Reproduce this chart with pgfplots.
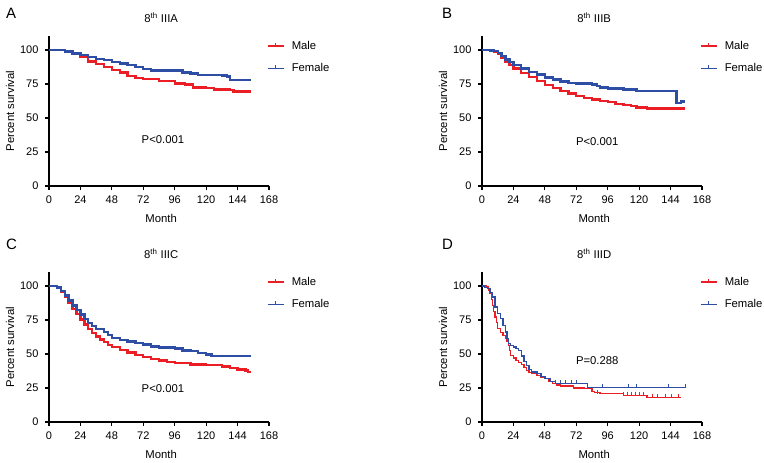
\documentclass[border=0pt]{standalone}
\usepackage{pgfplots}
\pgfplotsset{compat=1.18}
\usepackage{fontspec}
\setmainfont{Liberation Sans}
\definecolor{kmred}{RGB}{235,30,38}
\definecolor{kmblue}{RGB}{46,78,165}
\newcommand{\lf}{\fontsize{11.3}{13}\selectfont}
\pgfplotsset{
  km/.style={
    scale only axis, width=220pt, height=149.6pt,
    xmin=0, xmax=168, ymin=0, ymax=110,
    xtick={0,24,48,72,96,120,144,168},
    ytick={0,25,50,75,100},
    axis x line*=bottom, axis y line*=left,
    axis line style={line width=1.2pt, black},
    tick style={line width=1.1pt, black},
    major tick length=4pt, tick align=outside,
    /pgf/number format/assume math mode=true,
    tick label style={font=\fontsize{11}{13}\selectfont},
    xticklabel style={yshift=-2.5pt},
    yticklabel style={xshift=-3pt},
    label style={font=\lf},
    xlabel={Month}, ylabel={Percent survival},
    xlabel style={at={(axis description cs:0.51,-0.214)}, anchor=center},
    ylabel style={at={(axis description cs:-0.177,0.5)}, anchor=center},
    title style={font=\lf, at={(axis description cs:0.51,1)}, anchor=south, inner sep=0pt, yshift=8pt},
    legend style={at={(axis description cs:0.99,0.975)}, anchor=north west, draw=none, fill=none,
      font=\lf, row sep=10.5pt, inner sep=0pt,
      nodes={inner sep=1pt}},
    legend cell align=left,
    legend image code/.code={\draw[line width=1.5pt] (0pt,0pt) -- (16pt,0pt); \draw[line width=0.8pt] (8pt,0pt) -- (8pt,3pt); \path[draw=none] (0pt,0pt) -- (23pt,0pt);},
    every axis plot/.append style={const plot},
  },
}
\begin{document}
\begin{tikzpicture}
\useasboundingbox (0pt,0pt) rectangle (764pt,463pt);
\node[anchor=north west, inner sep=0pt, font=\fontsize{15}{17}\selectfont] at (6pt,455pt) {A};
\node[anchor=north west, inner sep=0pt, font=\fontsize{15}{17}\selectfont] at (442pt,455pt) {B};
\node[anchor=north west, inner sep=0pt, font=\fontsize{15}{17}\selectfont] at (6pt,224pt) {C};
\node[anchor=north west, inner sep=0pt, font=\fontsize{15}{17}\selectfont] at (442pt,224pt) {D};

% Panel A
\begin{axis}[km, at={(49pt,277pt)}, anchor=south west, title={8\textsuperscript{th} IIIA}]
\addplot[kmred, line width=2.4pt] coordinates {
(0,100) (8,100) (12,98.5) (18,97) (24,95) (30,91.5) (36,89.5) (42,87.5) (48,85.5) (54,83.5) (60,81) (66,79.5) (72,78.5) (84,77) (96,75.5) (104,74.5) (110,72.5) (120,72) (126,71) (138,70.5) (141,69.5) (154,69.5)};
\addlegendentry{Male}
\addplot[kmblue, line width=2.4pt] coordinates {
(0,100) (12,99) (18,97.5) (24,96.5) (30,95) (36,93.5) (42,92.5) (48,91) (54,90) (60,89) (66,87.5) (72,86) (78,84.8) (96,84.8) (102,83.5) (108,82.8) (114,81.6) (132,81.3) (136,80.5) (138,77.8) (154,77.8)};
\addlegendentry{Female}
\node[font=\lf] at (axis cs:87,34) {P<0.001};
\end{axis}

% Panel B
\begin{axis}[km, at={(482pt,277pt)}, anchor=south west, title={8\textsuperscript{th} IIIB}]
\addplot[kmred, line width=2.4pt] coordinates {
(0,100) (6,99.5) (9,99) (12,97.5) (15,94.5) (18,91.4) (21,88.8) (24,86.5) (30,83.3) (36,80.3) (42,77.2) (48,74.2) (54,72) (60,70) (66,68) (72,66.3) (78,64.8) (84,63.6) (90,62.5) (96,61.7) (102,60.5) (108,59.5) (114,58.8) (118,57.7) (126,56.9) (155,56.9)};
\addlegendentry{Male}
\addplot[kmblue, line width=2.4pt] coordinates {
(0,100) (6,99.7) (9,99.2) (12,98) (15,95.5) (18,93) (21,91) (24,89) (30,86.5) (36,84) (42,82) (48,79.9) (54,78.3) (60,76.7) (66,75.8) (72,75.4) (84,74.7) (88,73.5) (90,72.5) (96,71.7) (108,71) (118,70) (148,70) (148.5,61) (152,62) (155,62)};
\addlegendentry{Female}
\node[font=\lf] at (axis cs:88,33) {P<0.001};
\end{axis}

% Panel C
\begin{axis}[km, at={(49pt,41pt)}, anchor=south west, title={8\textsuperscript{th} IIIC}]
\addplot[kmred, line width=2.4pt] coordinates {
(0,100) (3,99.8) (6,98.8) (9,96) (12,91.9) (15,87.5) (18,83.3) (21,79.2) (24,75.5) (27,71.8) (30,68.6) (33,65.6) (36,63) (39,60.8) (42,58.8) (45,56.8) (48,55.1) (54,53) (60,51) (66,49.3) (72,47.8) (78,46.3) (84,45.1) (90,43.9) (96,43.4) (108,42.4) (120,41.7) (132,40.9) (138,39.7) (144,38.5) (150,38) (152,36.8) (154,36.8)};
\addlegendentry{Male}
\addplot[kmblue, line width=2.4pt] coordinates {
(0,100) (3,99.9) (6,99) (9,96.5) (12,93) (15,89.3) (18,85.8) (21,82.2) (24,78.9) (27,75.8) (30,73) (33,70.6) (36,68.6) (42,66.2) (45,64) (48,61.8) (54,60.5) (60,59.3) (66,58) (72,56.9) (78,55.5) (84,54.9) (96,53.9) (102,52.6) (108,52) (114,50.8) (120,49.5) (124,48.5) (154,48.5)};
\addlegendentry{Female}
\node[font=\lf] at (axis cs:87,24.3) {P<0.001};
\end{axis}

% Panel D
\begin{axis}[km, at={(482pt,41pt)}, anchor=south west, title={8\textsuperscript{th} IIID}]
\addplot[kmred, line width=1.3pt] coordinates {
(0,100) (3,99.3) (5,97) (6,94.4) (7,90) (8,85.8) (9,81.5) (10,77.2) (11,73) (12,68.6) (14,65.7) (16,63.5) (18,61.3) (19,59) (20,56.4) (21,52.5) (22,49) (24,47) (26,45.3) (28,43.6) (30,42.2) (32,40) (34,38) (36,36.5) (38,35.5) (42,34.3) (45,33) (48,31.9) (51,30) (54,28.2) (57,27.3) (60,26.5) (70,25) (78,24.5) (84,22.5) (86,21.5) (90,20.8) (108,19.6) (126,17.9) (152,17.9)};
\addlegendentry{Male}
\addplot[kmblue, line width=1.3pt] coordinates {
(0,100) (2,99) (4,98) (6,95) (8,91.9) (10,84.6) (12,80) (14,76) (16,71) (18,66.2) (19,61.5) (20,57.6) (22,56.2) (24,55.1) (26,54) (28,52.7) (30,48.5) (32,44.5) (34,41.7) (36,38.5) (38,36.8) (42,35.5) (45,33.5) (48,31.9) (52,29.9) (56,28.2) (80,28.2) (80.5,25.2) (155,25.2)};
\addlegendentry{Female}
\addplot[kmred, only marks, forget plot, mark=|, mark size=2pt, mark options={line width=0.8pt, yshift=1.6pt}] coordinates {
(88,20.8) (108,19.6) (111,19.6) (114,19.6) (117,19.6) (120,19.6) (123,19.6) (130,17.9) (134,17.9) (140,17.9) (145,17.9) (150,17.9)};
\addplot[kmblue, only marks, forget plot, mark=|, mark size=2pt, mark options={line width=0.8pt, yshift=1.6pt}] coordinates {
(56,28.2) (60,28.2) (64,28.2) (68,28.2) (72,28.2) (92,25.2) (112,25.2) (118,25.2) (142,25.2) (155,25.2)};
\node[font=\lf] at (axis cs:88,44.9) {P=0.288};
\end{axis}
\end{tikzpicture}
\end{document}
